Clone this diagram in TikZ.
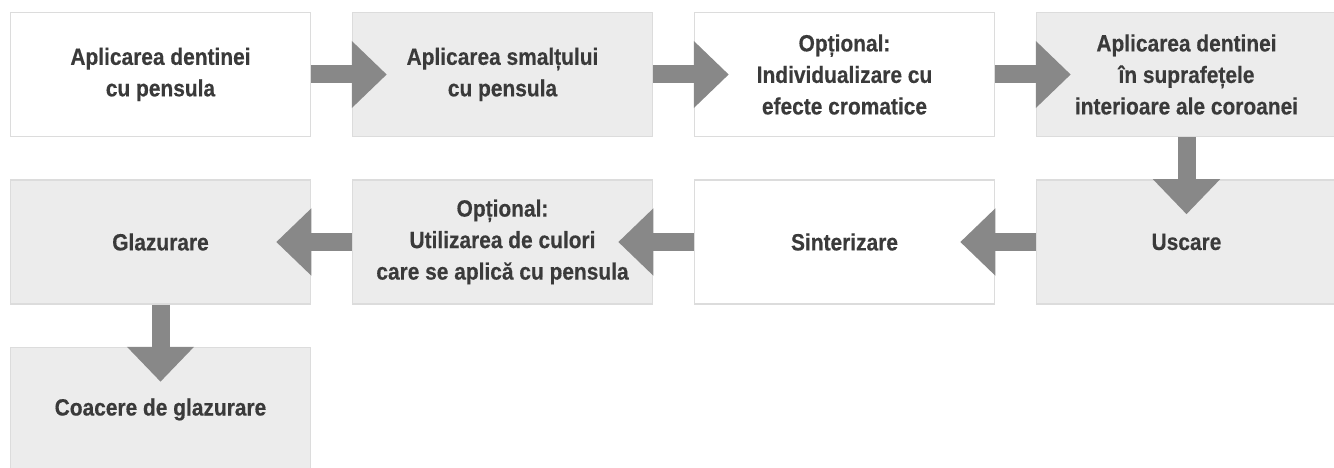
\documentclass[tikz,border=0pt]{standalone}
\usepackage{fontspec}
\newfontfamily\stepfont{Liberation Sans}[FakeStretch=0.89,BoldFeatures={FakeBold=0.4}]
\usetikzlibrary{arrows.meta}
\definecolor{boxgray}{HTML}{ECECEC}
\definecolor{edgegray}{HTML}{DCDCDC}
\definecolor{arrowgray}{HTML}{888888}
\definecolor{textgray}{HTML}{3A3A3A}
\tikzset{
  stepbox/.style={draw=edgegray, line width=1.5pt, fill=white, minimum width=300pt,
    minimum height=124pt, inner sep=0pt, align=center, text=textgray,
    font=\stepfont\bfseries\fontsize{23.5}{31.5}\selectfont},
  shadedbox/.style={stepbox, fill=boxgray},
  flow/.style={arrowgray, line width=18pt, -{Triangle[width=65pt,length=35pt]}}
}
\begin{document}
\begin{tikzpicture}[x=1pt,y=-1pt]
\clip (0,0) rectangle (1334,468);
% first row
\node[stepbox] (dentina) at (160.5,74.5) {Aplicarea dentinei\\cu pensula};
\node[shadedbox] (smalt) at (502.5,74.5) {Aplicarea smalțului\\cu pensula};
\node[stepbox] (efecte) at (844.5,74.5) {Opțional:\\Individualizare cu\\efecte cromatice};
\node[shadedbox] (interior) at (1186.5,74.5) {Aplicarea dentinei\\în suprafețele\\interioare ale coroanei};
% second row
\node[shadedbox] (uscare) at (1186.5,242) {Uscare};
\node[stepbox] (sinter) at (844.5,242) {Sinterizare};
\node[shadedbox] (culori) at (502.5,242) {Opțional:\\Utilizarea de culori\\care se aplică cu pensula};
\node[shadedbox] (glazura) at (160.5,242) {Glazurare};
% third row
\node[shadedbox] (coacere) at (160.5,409.5) {Coacere de glazurare};
% arrows
\draw[flow] (dentina.east) -- ([xshift=35pt]smalt.west);
\draw[flow] (smalt.east) -- ([xshift=35pt]efecte.west);
\draw[flow] (efecte.east) -- ([xshift=35pt]interior.west);
\draw[flow] (interior.south) -- ([yshift=-35pt]uscare.north);
\draw[flow] (uscare.west) -- ([xshift=-35pt]sinter.east);
\draw[flow] (sinter.west) -- ([xshift=-35pt]culori.east);
\draw[flow] (culori.west) -- ([xshift=-35pt]glazura.east);
\draw[flow] (glazura.south) -- ([yshift=-35pt]coacere.north);
\end{tikzpicture}
\end{document}
